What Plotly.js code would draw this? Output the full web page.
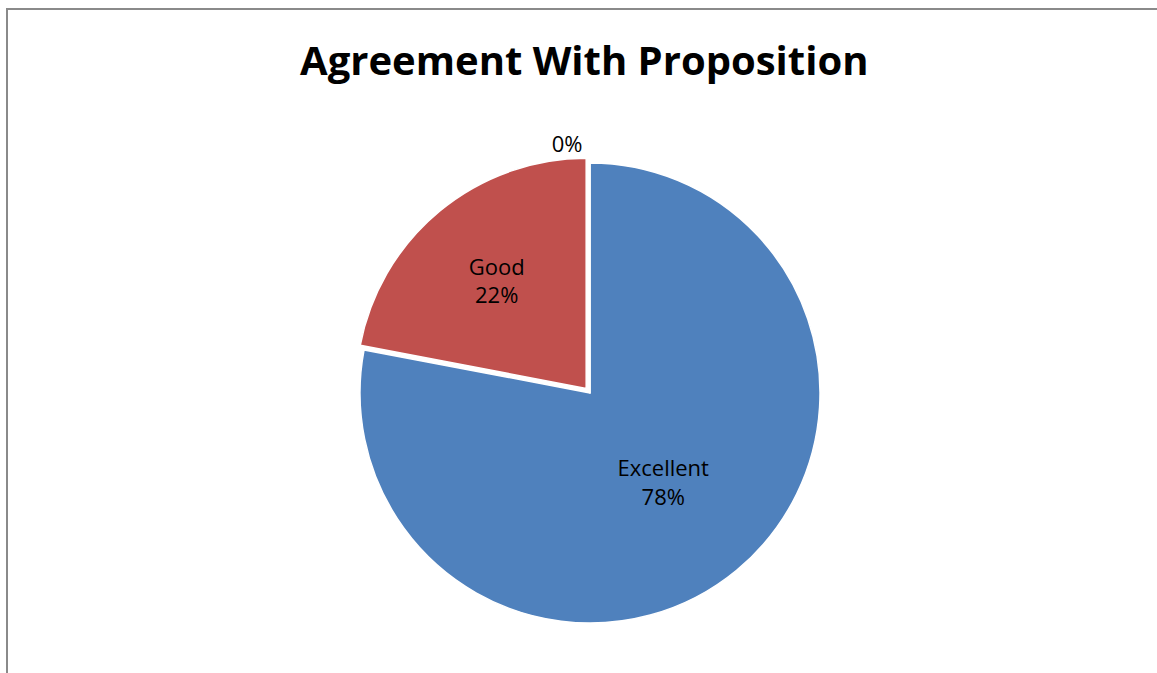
<!DOCTYPE html>
<html>
<head>
<meta charset="utf-8">
<script src="https://cdn.plot.ly/plotly-3.0.1.min.js"></script>
<style>
html, body { margin: 0; padding: 0; background: #fff; }
#frame { position: absolute; left: 6px; top: 8px; width: 1200px; height: 700px; border-left: 2px solid #8a8a8a; border-top: 2px solid #8a8a8a; pointer-events: none; z-index: 5; }
#chart { position: absolute; left: 0; top: 0; width: 1157px; height: 673px; }
#chart path.textline { stroke: none !important; stroke-width: 0 !important; }
</style>
</head>
<body>
<div id="chart"></div>
<div id="frame"></div>
<script>
const categories = ["Excellent", "Good", "Poor"];
const values = [78, 22, 0];
const sliceColors = ["#4F81BD", "#C0504D", "#9BBB59"];
const templates = ["%{label}<br>%{percent}", "%{label}<br>%{percent}", "%{percent}"];

const W = 1157, H = 673;
const cx = 590, cy = 393, half = 236;

const trace = {
  type: "pie",
  labels: categories,
  values: values,
  sort: false,
  direction: "clockwise",
  rotation: 0,
  pull: [0, 0.026, 0],
  marker: { colors: sliceColors, line: { color: "#ffffff", width: 1.5 } },
  texttemplate: templates,
  textposition: ["inside", "inside", "outside"],
  insidetextorientation: "horizontal",
  textfont: { family: "Open Sans, sans-serif", size: 22, color: "#000000" },
  outsidetextfont: { family: "Open Sans, sans-serif", size: 22, color: "#000000" },
  showlegend: false,
  hoverinfo: "label+percent",
  domain: { x: [(cx - half) / W, (cx + half) / W], y: [(H - cy - half) / H, (H - cy + half) / H] }
};

const layout = {
  width: W, height: H,
  margin: { l: 0, r: 0, t: 0, b: 0 },
  paper_bgcolor: "#ffffff",
  title: {
    text: "<b>Agreement With Proposition</b>",
    font: { family: "Open Sans, sans-serif", size: 40, color: "#000000" },
    x: 0.505, xanchor: "center", y: 0.91, yanchor: "middle", yref: "paper"
  },
  showlegend: false
};

Plotly.newPlot("chart", [trace], layout, { displayModeBar: false, staticPlot: true }).then(function (gd) {
  gd.querySelectorAll("path.textline").forEach(function (p) { p.style.display = "none"; });
});
</script>
</body>
</html>
